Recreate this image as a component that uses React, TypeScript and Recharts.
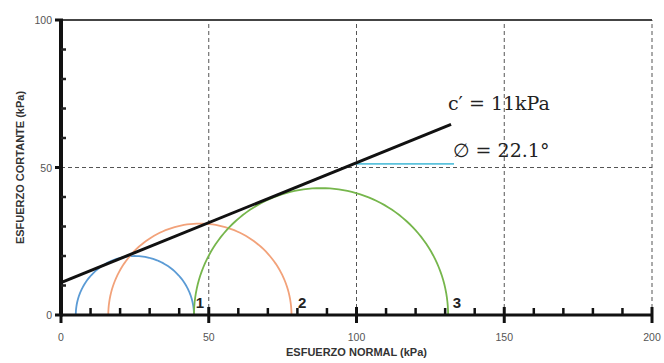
import { LineChart, Line, XAxis, YAxis, ReferenceLine, ReferenceDot } from "recharts";

// Mohr circles: minor / major principal stress (kPa)
const sigma3 = [5, 16, 45];
const sigma1 = [45, 78, 131];
const circleNames = ["1", "2", "3"];
const circleColors = ["#5b9bd5", "#f2a27a", "#76b64c"];
const nameX = [47, 81.6, 134];
const nameY = [4.1, 4.1, 4.1];

// failure envelope end points (c' = 11 kPa, phi = 22.1 deg)
const envelope = [
  { x: 0, y: 11 },
  { x: 132, y: 64.6 },
];
const angleMark = [
  { x: 99.5, y: 51.2 },
  { x: 133, y: 51.2 },
];
const cohesionLabel = "c′ = 11kPa";
const frictionLabel = "∅ = 22.1°";

const xTicks = [0, 10, 20, 30, 40, 50, 60, 70, 80, 90, 100, 110, 120, 130, 140, 150, 160, 170, 180, 190, 200];
const yTicks = [0, 10, 20, 30, 40, 50, 60, 70, 80, 90, 100];
const xGrid = [50, 100, 150, 200];
const yGrid = [50];

function semicircle(s3: number, s1: number) {
  const c = (s1 + s3) / 2;
  const r = (s1 - s3) / 2;
  const pts = [];
  for (let i = 0; i <= 90; i++) {
    const t = Math.PI * (1 - i / 90);
    pts.push({ x: c + r * Math.cos(t), y: r * Math.sin(t) });
  }
  return pts;
}

const tickFont = { fontFamily: "Liberation Sans, Arial, sans-serif", fontSize: 10.5, fill: "#555" };

// x labels only; the marks are drawn on the axis with ReferenceDots below
const XTick = (p: any) => {
  const v = p.payload.value;
  if (v % 50 !== 0) return <g />;
  return (
    <text x={p.x} y={p.y + 26} textAnchor="middle" {...tickFont}>
      {v}
    </text>
  );
};

const xMark = (major: boolean) => (p: any) => (
  <line
    x1={p.cx}
    x2={p.cx}
    y1={p.cy - (major ? 8 : 7)}
    y2={p.cy + (major ? 8 : 0)}
    stroke="#111"
    strokeWidth={major ? 3 : 2.5}
  />
);

const YTick = (p: any) => {
  const v = p.payload.value;
  const { x, y } = p;
  const major = v % 50 === 0;
  return (
    <g>
      {major ? (
        <line x1={x - 6} x2={x + 2} y1={y} y2={y} stroke="#111" strokeWidth={3} />
      ) : (
        <line x1={x} x2={x + 5} y1={y} y2={y} stroke="#222" strokeWidth={2.5} />
      )}
      {major && (
        <text x={x - 9} y={y + 4} textAnchor="end" {...tickFont}>
          {v}
        </text>
      )}
    </g>
  );
};

const textShape = (value: string, style: any) => (p: any) => (
  <text x={p.cx} y={p.cy} textAnchor="middle" dominantBaseline="central" {...style}>
    {value}
  </text>
);

const serif = { fontFamily: "DejaVu Serif, serif", fontSize: 19, fill: "#222" };
const nameFont = { fontFamily: "Liberation Sans, Arial, sans-serif", fontSize: 15, fontWeight: 700, fill: "#222" };
const titleStyle = { fontFamily: "Liberation Sans, Arial, sans-serif", fontSize: 11, fontWeight: 700, fill: "#333" };

export default function App() {
  return (
    <div style={{ position: "absolute", left: 0, top: 0, width: 664, height: 363, background: "#fff" }}>
      <LineChart width={664} height={363} margin={{ top: 20, right: 12, bottom: 3, left: 0 }}>
        {xGrid.map((v) => (
          <ReferenceLine key={"gx" + v} x={v} stroke="#555" strokeDasharray="4 3" strokeWidth={1} />
        ))}
        {yGrid.map((v) => (
          <ReferenceLine key={"gy" + v} y={v} stroke="#555" strokeDasharray="4 3" strokeWidth={1} />
        ))}
        <ReferenceLine y={100} stroke="#444" strokeWidth={2} />
        <XAxis
          type="number"
          dataKey="x"
          domain={[0, 200]}
          ticks={xTicks}
          interval={0}
          tick={(p: any) => <XTick {...p} />}
          tickSize={0}
          tickMargin={0}
          height={45}
          axisLine={{ stroke: "#111", strokeWidth: 3 }}
          tickLine={false}
          allowDataOverflow
          label={{ value: "ESFUERZO NORMAL (kPa)", position: "insideBottom", offset: 4, style: titleStyle }}
        />
        <YAxis
          type="number"
          domain={[0, 100]}
          ticks={yTicks}
          interval={0}
          tick={(p: any) => <YTick {...p} />}
          tickSize={0}
          tickMargin={0}
          width={61}
          axisLine={{ stroke: "#111", strokeWidth: 4 }}
          tickLine={false}
          allowDataOverflow
          label={{
            value: "ESFUERZO CORTANTE (kPa)",
            angle: -90,
            position: "insideLeft",
            offset: 20,
            style: { ...titleStyle, textAnchor: "middle" },
          }}
        />
        {sigma3.map((s3, i) => (
          <Line
            key={"c" + i}
            data={semicircle(s3, sigma1[i])}
            dataKey="y"
            type="linear"
            stroke={circleColors[i]}
            strokeWidth={1.8}
            dot={false}
            activeDot={false}
            isAnimationActive={false}
          />
        ))}
        <Line
          data={angleMark}
          dataKey="y"
          type="linear"
          stroke="#5bc2dc"
          strokeWidth={1.8}
          dot={false}
          activeDot={false}
          isAnimationActive={false}
        />
        <Line
          data={envelope}
          dataKey="y"
          type="linear"
          stroke="#111"
          strokeWidth={3}
          dot={false}
          activeDot={false}
          isAnimationActive={false}
        />
        {xTicks.map((v) => (
          <ReferenceDot key={"xm" + v} x={v} y={0} r={0} ifOverflow="visible" shape={xMark(v % 50 === 0)} />
        ))}
        <ReferenceDot x={148.2} y={71.9} r={0} shape={textShape(cohesionLabel, serif)} />
        <ReferenceDot x={148.9} y={55.9} r={0} shape={textShape(frictionLabel, serif)} />
        {circleNames.map((n, i) => (
          <ReferenceDot key={"n" + i} x={nameX[i]} y={nameY[i]} r={0} shape={textShape(n, nameFont)} />
        ))}
      </LineChart>
    </div>
  );
}
